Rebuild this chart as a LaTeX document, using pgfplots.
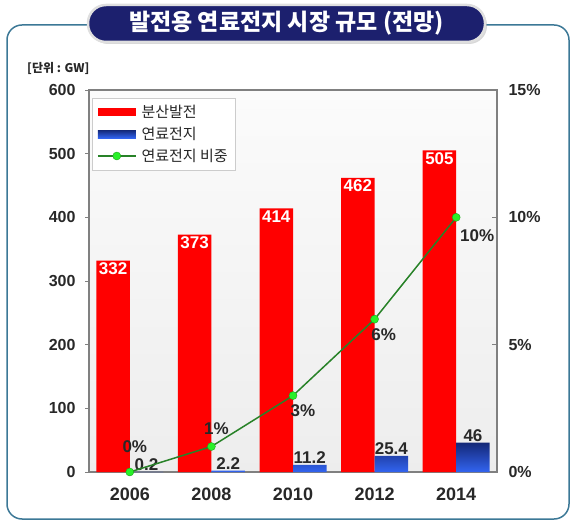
\documentclass[border=0pt]{standalone}
\usepackage{fontspec}
\setmainfont{Liberation Sans}
\newfontfamily\kr{Noto Sans CJK KR}
\usepackage{pgfplots}
\pgfplotsset{compat=1.18}
\usepackage{pgfplotstable}
\usetikzlibrary{shadows}

\definecolor{framec}{RGB}{60,120,150}
\definecolor{navy}{RGB}{28,32,110}
\definecolor{barred}{RGB}{255,0,0}
\definecolor{bluetop}{RGB}{20,40,120}
\definecolor{bluebot}{RGB}{50,100,240}
\definecolor{lineg}{RGB}{40,130,40}
\definecolor{markg}{RGB}{40,240,40}
\definecolor{txt}{RGB}{40,40,40}
\definecolor{axisgray}{RGB}{128,128,128}

\pgfplotstableread{
x dist fuel
0 332 0.2
1 373 2.2
2 414 11.2
3 462 25.4
4 505 46
}\bars

\pgfplotstableread{
x share dx dy
0 0 5 25
1 1 5 18
2 3 10 -15
3 6 9 -15
4 10 21 -18
}\shares

\pgfplotsset{
  every tick label/.append style={font=\bfseries\fontsize{16}{16}\selectfont, text=txt},
  /pgf/number format/assume math mode=true,
  mylineleg/.style={legend image code/.code={%
     \draw[lineg, line width=1.5pt] (0pt,0pt) -- (38pt,0pt);
     \filldraw[fill=markg, draw=markg!70!black, line width=0.4pt] (19pt,0pt) circle (4pt);}},
  redleg/.style={legend image code/.code={\fill[barred] (0pt,-4pt) rectangle (38pt,4pt);}},
  blueleg/.style={legend image code/.code={\fill[top color=bluetop, bottom color=bluebot] (0pt,-4pt) rectangle (38pt,4pt);}},
}

\begin{document}
\begin{tikzpicture}
\path[use as bounding box] (0pt,0pt) rectangle (572pt,522pt);
\draw[framec, line width=1.5pt, rounded corners=15pt] (7pt,3pt) rectangle (569pt,497pt);
\node[fill=navy, draw=gray!25, line width=2.5pt, rounded corners=18pt,
      minimum width=397pt, minimum height=37pt, inner sep=0pt,
      drop shadow={shadow xshift=2pt, shadow yshift=-2pt, fill=gray!60},
      font=\kr\bfseries\fontsize{23}{23}\selectfont, text=white]
      at (286.5pt,498.5pt) {발전용 연료전지 시장 규모 (전망)};
\node[anchor=west, font=\kr\bfseries\fontsize{12}{12}\selectfont, text=txt, inner sep=0pt] at (27pt,454pt) {[단위 : GW]};

\begin{axis}[
  at={(89pt,50pt)}, anchor=south west, scale only axis,
  width=408pt, height=382pt,
  xmin=-0.5, xmax=4.5, ymin=0, ymax=600,
  ybar=0pt, bar width=33.5pt,
  axis line style={axisgray, line width=1.2pt},
  axis background/.style={top color=gray!3, bottom color=gray!14},
  xtick={0,1,2,3,4},
  xticklabels={2006,2008,2010,2012,2014},
  xticklabel style={font=\bfseries\fontsize{18}{18}\selectfont, yshift=-8pt},
  major x tick style={draw=none},
  extra x ticks={0.5,1.5,2.5,3.5},
  extra x tick labels={},
  extra x tick style={major tick length=4pt, tick align=inside, tick style={axisgray, draw=axisgray}},
  ytick={0,100,...,600},
  ytick pos=left,
  y tick style={axisgray, line width=0.8pt},
  tick align=outside,
  major tick length=4pt,
  yticklabel style={xshift=-6pt},
  clip=false,
  legend style={at={(0.007,0.979)}, anchor=north west, draw=gray!40, fill=white,
    font=\kr\fontsize{15}{15}\selectfont, text=gray!30!black, row sep=4pt, inner sep=5pt,
    /tikz/every odd column/.append style={column sep=3pt}},
  legend cell align=left,
]
\addplot[fill=barred, draw=none, redleg,
  nodes near coords, nodes near coords align={anchor=north},
  every node near coord/.append style={font=\bfseries\fontsize{17}{17}\selectfont, text=white, inner sep=2pt}]
  table[x=x,y=dist]{\bars};
\addlegendentry{분산발전}
\addplot[top color=bluetop, bottom color=bluebot, draw=none, blueleg,
  nodes near coords, nodes near coords align={anchor=south},
  every node near coord/.append style={font=\bfseries\fontsize{17}{17}\selectfont, text=txt, inner sep=1pt}]
  table[x=x,y=fuel]{\bars};
\addlegendentry{연료전지}
\addlegendimage{mylineleg}
\addlegendentry{연료전지 비중}
\end{axis}

\begin{axis}[
  at={(89pt,50pt)}, anchor=south west, scale only axis,
  width=408pt, height=382pt,
  xmin=-0.5, xmax=4.5, ymin=0, ymax=15,
  axis x line=none,
  axis y line*=right,
  axis line style={axisgray, line width=1.2pt},
  ytick={0,5,10,15},
  yticklabel={\pgfmathprintnumber{\tick}\%},
  yticklabel style={xshift=8pt},
  tick align=inside,
  major tick length=5pt,
  y tick style={axisgray, line width=0.8pt},
  clip=false,
]
\addplot[lineg, line width=1.5pt, mark=*, mark size=4pt,
  mark options={fill=markg, draw=markg!70!black, line width=0.4pt},
  point meta=y,
  visualization depends on={\thisrow{dx}\as\dx},
  visualization depends on={\thisrow{dy}\as\dy},
  nodes near coords={\pgfmathprintnumber{\pgfplotspointmeta}\%},
  nodes near coords align={anchor=center},
  every node near coord/.append style={xshift=\dx, yshift=\dy, font=\bfseries\fontsize{17}{17}\selectfont, text=txt, inner sep=1pt}]
  table[x=x,y=share]{\shares};
\end{axis}
\end{tikzpicture}
\end{document}
